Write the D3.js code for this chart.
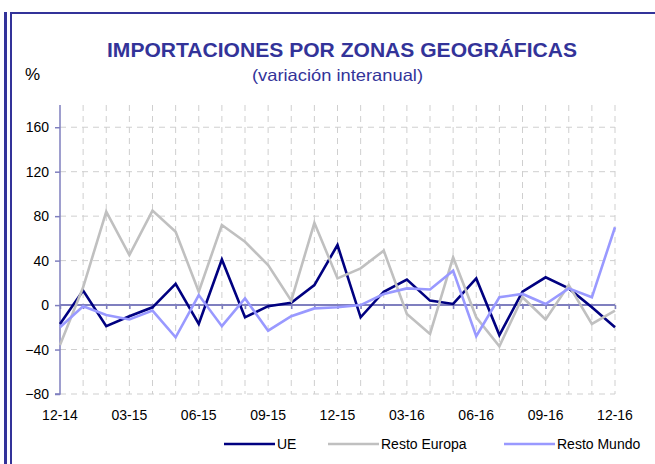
<!DOCTYPE html>
<html>
<head>
<meta charset="utf-8">
<script src="https://cdn.jsdelivr.net/npm/d3@7"></script>
<style>
  html, body { margin: 0; padding: 0; background: #fff; }
  svg { display: block; font-family: "Liberation Sans", Arial, sans-serif; }
</style>
</head>
<body>
<svg id="chart" width="655" height="464"></svg>
<script>
// Monthly periods, Dec 2014 to Dec 2016
const months = [
  "12-14","01-15","02-15","03-15","04-15","05-15","06-15","07-15","08-15",
  "09-15","10-15","11-15","12-15","01-16","02-16","03-16","04-16","05-16",
  "06-16","07-16","08-16","09-16","10-16","11-16","12-16"
];
const tickLabels = ["12-14","03-15","06-15","09-15","12-15","03-16","06-16","09-16","12-16"];
const yTicks = [-80, -40, 0, 40, 80, 120, 160];

// Year-on-year change (%) by geographic zone
const ue = [-17, 13, -19, -10, -2, 19, -17, 41, -11, -1, 2, 18, 54, -11, 12, 23, 4, 1, 24, -27, 12, 25, 15, -2, -20];
const restoEuropa = [-36, 16, 84, 45, 85, 66, 12, 72, 57, 36, 4, 74, 24, 33, 49, -8, -26, 43, -11, -37, 7, -13, 18, -17, -5];
const restoMundo = [-20, -1, -9, -13, -5, -29, 9, -19, 6, -23, -10, -3, -2, 0, 10, 15, 14, 31, -28, 7, 10, 1, 15, 7, 70];

const series = [
  { name: "UE", values: ue, color: "#000080" },
  { name: "Resto Europa", values: restoEuropa, color: "#c0c0c0" },
  { name: "Resto Mundo", values: restoMundo, color: "#9999ff" }
];

const svg = d3.select("#chart");
const frame = "#333399";

// Outer frame: heavy left bar, thin inner rule and top rule
svg.append("rect").attr("x", 4).attr("y", 12).attr("width", 3).attr("height", 452).attr("fill", frame);
svg.append("rect").attr("x", 10).attr("y", 12).attr("width", 2).attr("height", 452).attr("fill", frame);
svg.append("rect").attr("x", 10).attr("y", 12).attr("width", 645).attr("height", 2).attr("fill", frame);

const plotLeft = 60, plotRight = 615, plotTop = 105, plotBottom = 394;

const x = d3.scalePoint().domain(months).range([plotLeft, plotRight]);
const y = d3.scaleLinear().domain([-80, 180]).range([plotBottom, plotTop]);

// Titles
svg.append("text").attr("x", 342).attr("y", 57).attr("text-anchor", "middle")
  .attr("font-size", 20).attr("font-weight", "bold").attr("fill", frame)
  .attr("textLength", 470).attr("lengthAdjust", "spacingAndGlyphs")
  .text("IMPORTACIONES POR ZONAS GEOGRÁFICAS");
svg.append("text").attr("x", 337.5).attr("y", 81).attr("text-anchor", "middle")
  .attr("font-size", 16.5).attr("fill", frame)
  .attr("textLength", 171).attr("lengthAdjust", "spacingAndGlyphs")
  .text("(variación interanual)");
svg.append("text").attr("x", 25).attr("y", 80)
  .attr("font-size", 17).attr("fill", "#000").text("%");

// Grid
const grid = svg.append("g").attr("stroke", "#cfcfcf").attr("stroke-width", 1).attr("stroke-dasharray", "6,5");
grid.selectAll("line.h").data(yTicks.filter(v => v !== 0)).join("line")
  .attr("class", "h")
  .attr("x1", plotLeft).attr("x2", plotRight)
  .attr("y1", d => y(d)).attr("y2", d => y(d));
grid.selectAll("line.v").data(months.slice(1)).join("line")
  .attr("class", "v")
  .attr("x1", d => x(d)).attr("x2", d => x(d))
  .attr("y1", plotTop).attr("y2", plotBottom);

// Y axis
const axisColor = "#7f7fbf";
const yAxis = svg.append("g").attr("transform", `translate(${plotLeft},0)`)
  .call(d3.axisLeft(y).tickValues(yTicks).tickSize(5).tickPadding(6));
yAxis.select(".domain").attr("stroke", axisColor).attr("stroke-width", 1.5)
  .attr("d", `M-5,${y(-80)}H0V${plotTop}`);
yAxis.selectAll(".tick line").attr("stroke", axisColor).attr("stroke-width", 1.5);
yAxis.selectAll(".tick text").attr("font-size", 14).attr("fill", "#000")
  .attr("font-family", "Liberation Sans, Arial, sans-serif");

// Zero line with monthly ticks
const zAxis = svg.append("g").attr("transform", `translate(0,${y(0)})`)
  .call(d3.axisBottom(x).tickSize(4).tickFormat(""));
zAxis.select(".domain").attr("stroke", axisColor).attr("stroke-width", 2)
  .attr("d", `M${plotLeft},0H${plotRight}`);
zAxis.selectAll(".tick line").attr("stroke", axisColor).attr("stroke-width", 1.5);

// Quarter labels under the plot
svg.append("g").selectAll("text").data(tickLabels).join("text")
  .attr("x", d => x(d)).attr("y", 420).attr("text-anchor", "middle")
  .attr("font-size", 14).attr("fill", "#000").text(d => d);

// Series lines
const line = d3.line().x((d, i) => x(months[i])).y(d => y(d));
svg.append("g").selectAll("path").data(series).join("path")
  .attr("d", d => line(d.values))
  .attr("fill", "none")
  .attr("stroke", d => d.color)
  .attr("stroke-width", 2.6)
  .attr("stroke-linejoin", "miter");

// Legend
const legendPos = [224, 328, 504];
const lg = svg.append("g").selectAll("g").data(series).join("g")
  .attr("transform", (d, i) => `translate(${legendPos[i]},444)`);
lg.append("line").attr("x1", 0).attr("x2", 51).attr("y1", 0).attr("y2", 0)
  .attr("stroke", d => d.color).attr("stroke-width", 2.6);
lg.append("text").attr("x", 53).attr("y", 5).attr("font-size", 14).attr("fill", "#000")
  .text(d => d.name);
</script>
</body>
</html>
